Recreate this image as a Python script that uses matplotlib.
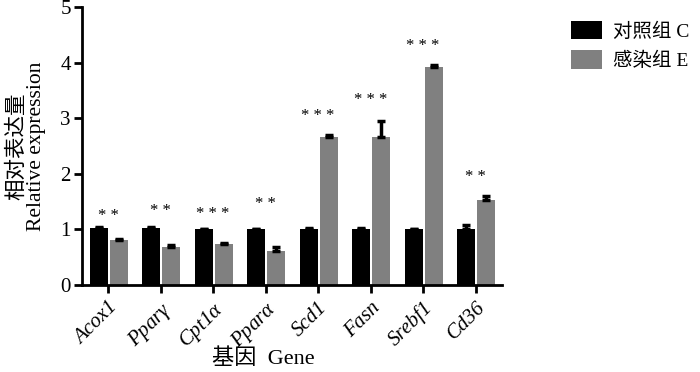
import matplotlib
matplotlib.use('Agg')
import matplotlib.pyplot as plt
import numpy as np

genes = ['Acox1', r'Ppar$\gamma$', r'Cpt1$\alpha$', r'Ppar$\alpha$', 'Scd1', 'Fasn', 'Srebf1', 'Cd36']
ctrl = [1.02, 1.02, 1.01, 1.01, 1.01, 1.01, 1.0, 1.01]
ctrl_err = [0.02, 0.02, 0.005, 0.005, 0.02, 0.02, 0.005, 0.06]
inf = [0.81, 0.69, 0.74, 0.61, 2.67, 2.67, 3.93, 1.52]
inf_err = [0.02, 0.03, 0.02, 0.07, 0.02, 0.28, 0.02, 0.08]
stars = ['**', '**', '***', '**', '***', '***', '***', '**']
star_y = [1.10, 1.18, 1.14, 1.32, 2.90, 3.19, 4.16, 1.79]

plt.rcParams['font.family'] = ['Liberation Serif', 'Noto Sans CJK SC']
plt.rcParams['mathtext.fontset'] = 'custom'
plt.rcParams['mathtext.it'] = 'Liberation Serif:italic'
plt.rcParams['mathtext.rm'] = 'Liberation Serif'

fig = plt.figure(figsize=(7, 3.72), dpi=100)
ax = fig.add_axes([0.117, 0.234, 0.6, 0.747])

x = np.arange(len(genes))
w = 0.34
ax.bar(x - 0.18, ctrl, w, color='black', label='对照组 C')
ax.bar(x + 0.2, inf, w, color='#808080', label='感染组 E')
ax.errorbar(x - 0.18, ctrl, yerr=[np.zeros(len(ctrl)), ctrl_err], fmt='none',
            ecolor='black', elinewidth=2.5, capsize=3, capthick=2.5)
ax.errorbar(x + 0.2, inf, yerr=[np.zeros(len(inf)), inf_err], fmt='none',
            ecolor='black', elinewidth=2.5, capsize=3, capthick=2.5)

for xi, s, yi in zip(x, stars, star_y):
    ax.text(xi, yi, ' '.join(s), ha='center', va='bottom', fontsize=12)

ax.set_xlim(-0.5, 7.5)
ax.set_ylim(0, 5)
ax.set_yticks([0, 1, 2, 3, 4, 5])
ax.set_xticks(x)
ax.set_xticklabels(genes, rotation=45, ha='right', rotation_mode='anchor',
                   style='italic', fontsize=15)
ax.tick_params(axis='y', labelsize=15, width=2, length=6, pad=2)
ax.tick_params(axis='x', width=2, length=6)
for side in ['top', 'right']:
    ax.spines[side].set_visible(False)
for side in ['left', 'bottom']:
    ax.spines[side].set_linewidth(2)

ax.set_ylabel('相对表达量\nRelative expression', fontsize=15.5, linespacing=1.0, labelpad=10)
ax.set_xlabel('基因  Gene', fontsize=16)
ax.xaxis.set_label_coords(0.433, -0.228)

fig.legend(loc='upper left', bbox_to_anchor=(0.804, 0.965), frameon=False,
           fontsize=14, handlelength=1.6, handleheight=1.1, labelspacing=0.5,
           handletextpad=0.6, borderaxespad=0)

plt.savefig('out.png', dpi=100)
